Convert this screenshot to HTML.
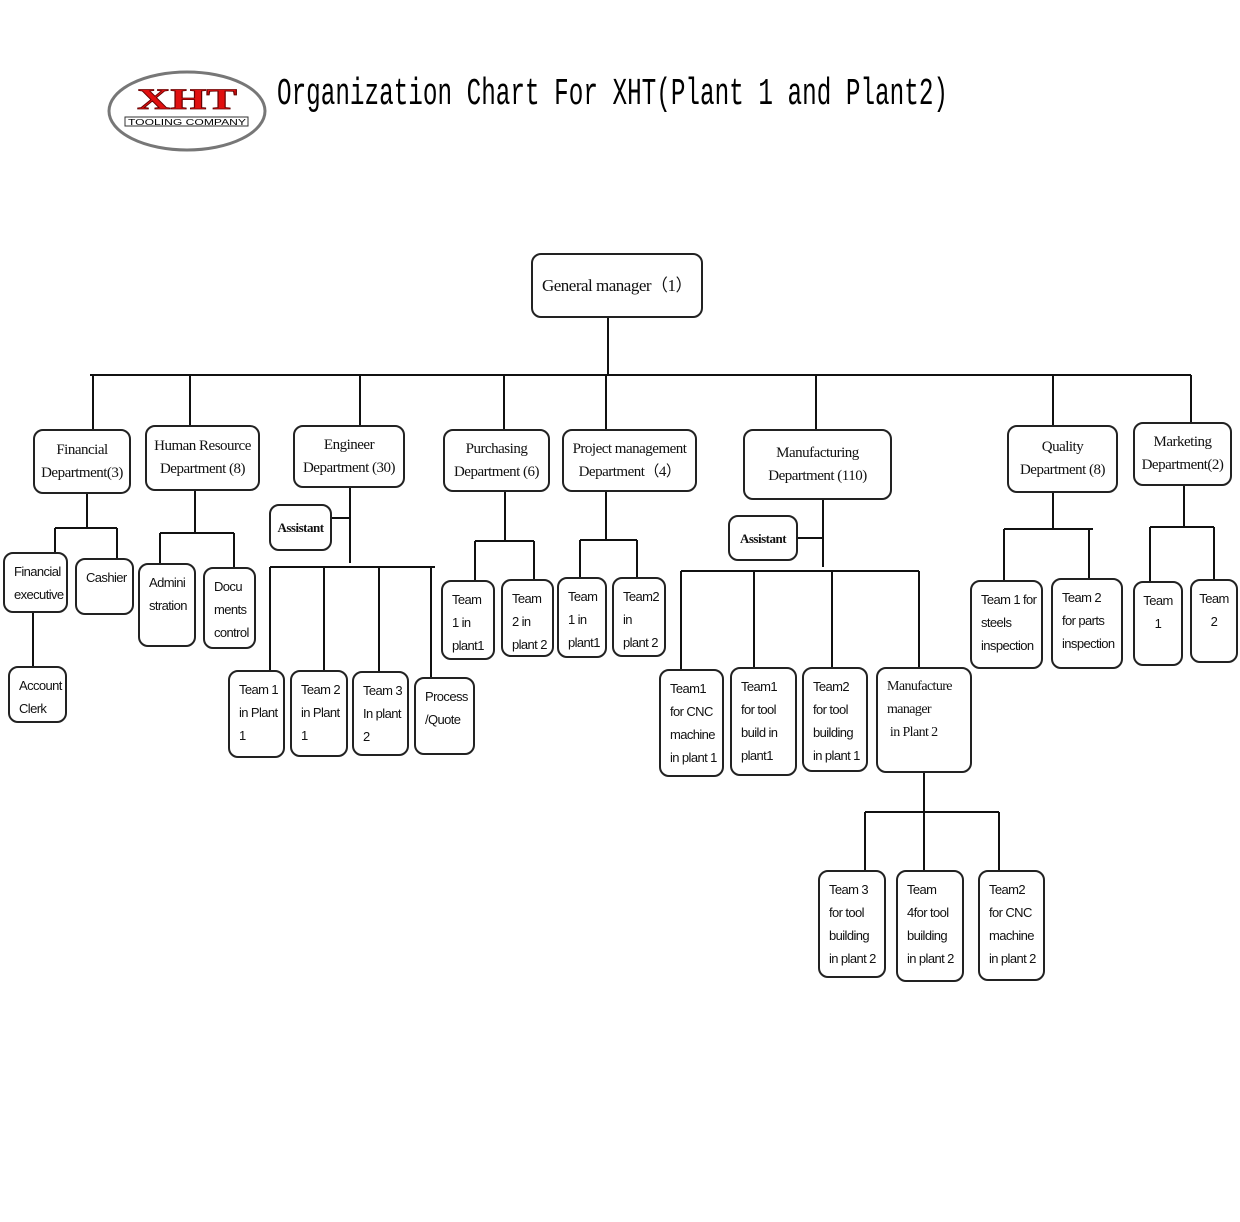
<!DOCTYPE html>
<html><head><meta charset="utf-8"><style>
body{margin:0;width:1240px;height:1222px;background:#fff;position:relative;overflow:hidden}
.b{position:absolute;border:2px solid #222;border-radius:10px;box-sizing:border-box;background:#fff}
.d{font-family:"Liberation Serif",serif;font-size:15px;text-align:center;line-height:23px;display:flex;align-items:center;justify-content:center;letter-spacing:-0.5px;color:#111}
.t{font-family:"Liberation Sans",sans-serif;font-size:13px;line-height:23px;padding:6px 0 0 9px;letter-spacing:-0.6px;color:#111}
svg{position:absolute;left:0;top:0}
</style></head><body>
<svg width="1240" height="1222">
<ellipse cx="187" cy="111" rx="78" ry="39" fill="#fff" stroke="#777" stroke-width="3"/>
<text x="187" y="109" text-anchor="middle" font-family="Liberation Serif,serif" font-weight="bold" font-size="30" fill="#e01010" stroke="#600" stroke-width="0.8" textLength="100" lengthAdjust="spacingAndGlyphs">XHT</text>
<rect x="125" y="117" width="123" height="9" fill="#fff" stroke="#333" stroke-width="1"/>
<text x="187" y="125" text-anchor="middle" font-family="Liberation Sans,sans-serif" font-size="8" textLength="118" lengthAdjust="spacingAndGlyphs">TOOLING  COMPANY</text>
<g stroke="#111" stroke-width="2" fill="none">
<path d="M608 318V375M90 375H1191M93 375V429M190 375V425M360 375V425M504 375V429M606 375V429M816 375V429M1053 375V425M1191 375V422"/>
<path d="M87 494V528M55 528H117M55 528V552M117 528V558M33 613V666"/>
<path d="M195 491V533M160 533H234M160 533V563M234 533V567"/>
<path d="M350 488V563M332 518H350M270 567H435M270 567V670M324 567V670M379 567V671M431 567V677"/>
<path d="M505 492V541M475 541H534M475 541V580M534 541V579"/>
<path d="M606 492V540M580 540H637M580 540V577M637 540V577"/>
<path d="M823 500V567M798 538H823M681 571H919M681 571V669M754 571V667M832 571V667M919 571V667"/>
<path d="M924 773V812M865 812H999M865 812V870M924 812V870M999 812V870"/>
<path d="M1053 493V529M1004 529H1093M1004 529V580M1089 529V578"/>
<path d="M1184 486V527M1150 527H1214M1150 527V581M1214 527V579"/>
</g>
<text x="277" y="104" font-family="Liberation Mono,monospace" font-size="38" textLength="671" lengthAdjust="spacingAndGlyphs">Organization Chart For XHT(Plant 1 and Plant2)</text>
</svg>

<div class="b d" style="left:531px;top:253px;width:172px;height:65px;font-size:17px">General manager（1）</div>
<div class="b d" style="left:33px;top:429px;width:98px;height:65px">Financial<br>Department(3)</div>
<div class="b d" style="left:145px;top:425px;width:115px;height:66px">Human Resource<br>Department (8)</div>
<div class="b d" style="left:293px;top:425px;width:112px;height:63px">Engineer<br>Department (30)</div>
<div class="b d" style="left:443px;top:429px;width:107px;height:63px">Purchasing<br>Department (6)</div>
<div class="b d" style="left:562px;top:429px;width:135px;height:63px">Project management<br>Department（4）</div>
<div class="b d" style="left:743px;top:429px;width:149px;height:71px">Manufacturing<br>Department (110)</div>
<div class="b d" style="left:1007px;top:425px;width:111px;height:68px">Quality<br>Department (8)</div>
<div class="b d" style="left:1133px;top:422px;width:99px;height:64px">Marketing<br>Department(2)</div>
<div class="b d" style="left:269px;top:504px;width:63px;height:47px;font-size:13px;font-weight:bold">Assistant</div>
<div class="b d" style="left:728px;top:515px;width:70px;height:46px;font-size:13px;font-weight:bold">Assistant</div>

<div class="b t" style="left:3px;top:552px;width:65px;height:61px">Financial<br>executive</div>
<div class="b t" style="left:75px;top:558px;width:59px;height:57px">Cashier</div>
<div class="b t" style="left:8px;top:666px;width:59px;height:57px">Account<br>Clerk</div>
<div class="b t" style="left:138px;top:563px;width:58px;height:84px">Admini<br>stration</div>
<div class="b t" style="left:203px;top:567px;width:53px;height:82px">Docu<br>ments<br>control</div>
<div class="b t" style="left:228px;top:670px;width:57px;height:88px">Team 1<br>in Plant<br>1</div>
<div class="b t" style="left:290px;top:670px;width:58px;height:87px">Team 2<br>in Plant<br>1</div>
<div class="b t" style="left:352px;top:671px;width:57px;height:85px">Team 3<br>In plant<br>2</div>
<div class="b t" style="left:414px;top:677px;width:61px;height:78px">Process<br>/Quote</div>
<div class="b t" style="left:441px;top:580px;width:54px;height:80px">Team<br>1 in<br>plant1</div>
<div class="b t" style="left:501px;top:579px;width:53px;height:78px">Team<br>2 in<br>plant 2</div>
<div class="b t" style="left:557px;top:577px;width:50px;height:81px">Team<br>1 in<br>plant1</div>
<div class="b t" style="left:612px;top:577px;width:54px;height:80px">Team2<br>in<br>plant 2</div>
<div class="b t" style="left:659px;top:669px;width:65px;height:108px">Team1<br>for CNC<br>machine<br>in plant 1</div>
<div class="b t" style="left:730px;top:667px;width:67px;height:109px">Team1<br>for tool<br>build in<br>plant1</div>
<div class="b t" style="left:802px;top:667px;width:66px;height:105px">Team2<br>for tool<br>building<br>in plant 1</div>
<div class="b t" style="left:876px;top:667px;width:96px;height:106px;font-family:'Liberation Serif',serif;font-size:14px">Manufacture<br>manager<br>&nbsp;in Plant 2</div>
<div class="b t" style="left:818px;top:870px;width:68px;height:108px">Team 3<br>for tool<br>building<br>in plant 2</div>
<div class="b t" style="left:896px;top:870px;width:68px;height:112px">Team<br>4for tool<br>building<br>in plant 2</div>
<div class="b t" style="left:978px;top:870px;width:67px;height:111px">Team2<br>for CNC<br>machine<br>in plant 2</div>
<div class="b t" style="left:970px;top:580px;width:73px;height:89px">Team 1 for<br>steels<br>inspection</div>
<div class="b t" style="left:1051px;top:578px;width:72px;height:91px">Team 2<br>for parts<br>inspection</div>
<div class="b t" style="left:1133px;top:581px;width:50px;height:85px;text-align:center;padding-left:0">Team<br>1</div>
<div class="b t" style="left:1190px;top:579px;width:48px;height:84px;text-align:center;padding-left:0">Team<br>2</div>
</body></html>
